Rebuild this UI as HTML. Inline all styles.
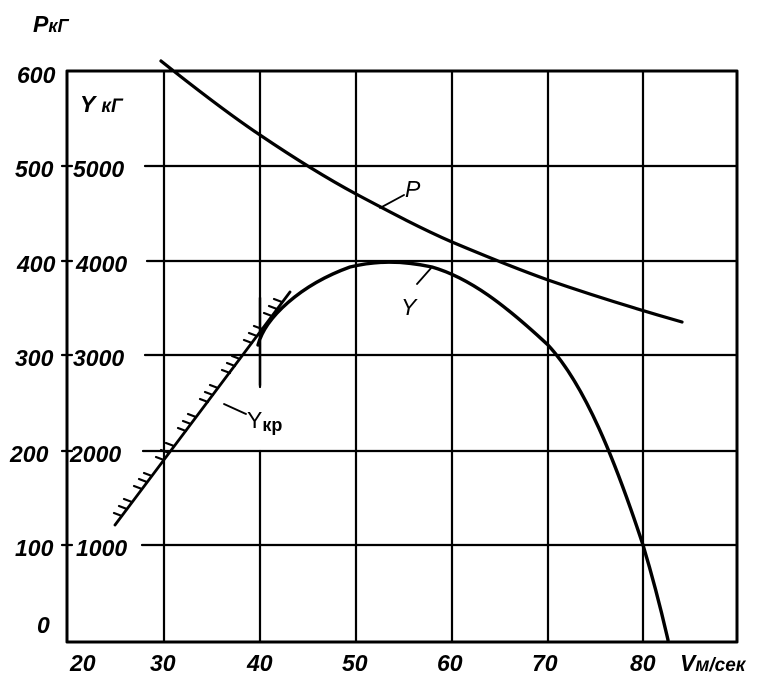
<!DOCTYPE html>
<html><head><meta charset="utf-8"><style>
html,body{margin:0;padding:0;background:#fff;width:775px;height:695px;overflow:hidden}
text{font-family:"Liberation Sans","DejaVu Sans",sans-serif;font-style:italic;font-size:23px;fill:#000}
</style></head><body>
<svg width="775" height="695" viewBox="0 0 775 695" xmlns="http://www.w3.org/2000/svg">
<g stroke="#000" fill="none" stroke-linecap="round" stroke-linejoin="round">
<path d="M67 71 H737 V642 H67 Z" stroke-width="3"/>
<g stroke-width="2.2">
<path d="M145 166 H737 M147 261 H737 M145 355 H737 M143 451 H737 M142 545 H737"/>
<path d="M62 166 H72 M62 261 H72 M62 355 H72 M62 451 H72 M62 545 H72"/>
<path d="M164 71 V642 M260 71 V387 M260 451 V642 M356 71 V642 M452 71 V642 M548 71 V642 M643 71 V642"/>
</g>
<path d="M161 61 C200 92 230 115 260 135 C300 162 330 180 356 194 C390 212 420 228 452 242 C490 258 520 270 548 280 C600 298 640 310 682 322" stroke-width="3.2"/>
<path d="M258 345 C265 318 300 285 350 267 C375 261 400 260 432 267 C470 278 505 305 548 345 C585 385 615 460 643 545 C652 575 660 605 668 640" stroke-width="3.4"/>
<path d="M115 525 L290 292" stroke-width="2.8"/>
<path d="M260 298 V385" stroke-width="2.5"/>
<g stroke-width="2.2">
<path d="M122 516 l-8 -3 M127 509 l-8 -3 M132 502 l-8 -3"/>
<path d="M142 489 l-8 -3 M147 482 l-8 -3 M152 476 l-8 -3"/>
<path d="M164 460 l-8 -3 M169 453 l-8 -3 M174 446 l-8 -3"/>
<path d="M186 431 l-8 -3 M191 424 l-8 -3 M196 417 l-8 -3"/>
<path d="M208 402 l-8 -3 M213 395 l-8 -3 M218 388 l-8 -3"/>
<path d="M230 373 l-8 -3 M235 366 l-8 -3 M240 359 l-8 -3"/>
<path d="M252 343 l-8 -3 M257 336 l-8 -3 M262 329 l-8 -3"/>
<path d="M272 316 l-8 -3 M277 309 l-8 -3 M282 302 l-8 -3"/>
</g>
<path d="M224 404 L246 414 M380 208 L404 195 M417 284 L432 267" stroke-width="1.8"/>
</g>
<g font-weight="bold">
<text x="33" y="32">Р<tspan font-size="18">кГ</tspan></text>
<text x="80" y="112">Y <tspan font-size="19">кГ</tspan></text>
<text x="17" y="83">600</text>
<text x="15" y="177">500</text>
<text x="73" y="177">5000</text>
<text x="17" y="272">400</text>
<text x="76" y="272">4000</text>
<text x="15" y="366">300</text>
<text x="73" y="366">3000</text>
<text x="10" y="462">200</text>
<text x="70" y="462">2000</text>
<text x="15" y="556">100</text>
<text x="76" y="556">1000</text>
<text x="37" y="633">0</text>
<text x="70" y="671">20</text>
<text x="150" y="671">30</text>
<text x="247" y="671">40</text>
<text x="342" y="671">50</text>
<text x="437" y="671">60</text>
<text x="532" y="671">70</text>
<text x="630" y="671">80</text>
<text x="680" y="671">V<tspan font-size="19">м/сек</tspan></text>
</g>
<text x="405" y="197">P</text>
<text x="401" y="315">Y</text>
<text x="247" y="428" style="font-style:normal">Y<tspan font-size="18" font-weight="bold" dy="3">кр</tspan></text>
</svg>
</body></html>
